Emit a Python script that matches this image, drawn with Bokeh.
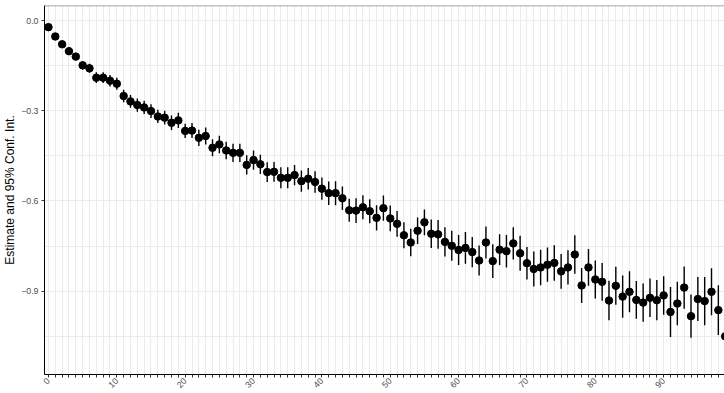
import math
from bokeh.plotting import figure
from bokeh.models import FixedTicker, CustomJSTickFormatter, Span, ColumnDataSource
from bokeh.embed import file_html
from bokeh.resources import INLINE

# ---- data ----
index = list(range(100))
estimate = [
    -0.022, -0.053, -0.079, -0.102, -0.120, -0.149, -0.159, -0.190, -0.190, -0.200,
    -0.210, -0.251, -0.269, -0.281, -0.289, -0.301, -0.319, -0.323, -0.340, -0.332,
    -0.367, -0.366, -0.390, -0.384, -0.423, -0.412, -0.432, -0.440, -0.440, -0.480,
    -0.464, -0.478, -0.504, -0.503, -0.523, -0.523, -0.514, -0.534, -0.526, -0.537,
    -0.559, -0.574, -0.574, -0.591, -0.631, -0.632, -0.621, -0.634, -0.656, -0.624,
    -0.658, -0.676, -0.714, -0.738, -0.699, -0.671, -0.709, -0.711, -0.736, -0.749,
    -0.763, -0.756, -0.770, -0.798, -0.738, -0.800, -0.762, -0.767, -0.741, -0.774,
    -0.807, -0.826, -0.821, -0.812, -0.806, -0.834, -0.821, -0.778, -0.881, -0.821,
    -0.861, -0.869, -0.931, -0.882, -0.918, -0.902, -0.929, -0.938, -0.922, -0.930,
    -0.914, -0.969, -0.941, -0.888, -0.983, -0.926, -0.933, -0.902, -0.963, -1.050,
]
half_ci = [
    0.006, 0.008, 0.009, 0.010, 0.011, 0.014, 0.015, 0.018, 0.018, 0.019,
    0.020, 0.021, 0.021, 0.022, 0.022, 0.023, 0.022, 0.023, 0.024, 0.025,
    0.024, 0.025, 0.027, 0.028, 0.028, 0.029, 0.029, 0.030, 0.030, 0.032,
    0.032, 0.032, 0.033, 0.033, 0.035, 0.035, 0.034, 0.035, 0.036, 0.036,
    0.037, 0.039, 0.040, 0.039, 0.038, 0.041, 0.040, 0.040, 0.042, 0.042,
    0.043, 0.043, 0.043, 0.046, 0.044, 0.043, 0.047, 0.048, 0.049, 0.050,
    0.050, 0.053, 0.050, 0.050, 0.053, 0.056, 0.051, 0.054, 0.054, 0.058,
    0.054, 0.058, 0.059, 0.057, 0.059, 0.058, 0.057, 0.064, 0.058, 0.061,
    0.063, 0.063, 0.066, 0.063, 0.070, 0.068, 0.063, 0.064, 0.064, 0.067,
    0.064, 0.083, 0.072, 0.070, 0.072, 0.073, 0.080, 0.078, 0.083, 0.080,
]
x_tick_values = list(range(100))
x_label_values = [0, 10, 20, 30, 40, 50, 60, 70, 80, 90]
y_major_ticks = [-0.9, -0.6, -0.3, 0.0]
y_minor_ticks = [-1.05, -0.75, -0.45, -0.15]
y_tick_labels = ["\u22120.9", "\u22120.6", "\u22120.3", "0.0"]
y_title = "Estimate and 95% Conf. Int."

lower = [e - h for e, h in zip(estimate, half_ci)]
upper = [e + h for e, h in zip(estimate, half_ci)]
src = ColumnDataSource(dict(x=index, est=estimate, lo=lower, hi=upper))

FONT = "Liberation Sans"
GRID = "#EBEBEB"
Y_TOP = 0.05

p = figure(width=724, height=393, output_backend="svg", toolbar_location=None,
           x_range=(-0.58, 98.9), y_range=(-1.177, Y_TOP),
           min_border_left=0, min_border_right=0, min_border_top=5, min_border_bottom=0,
           background_fill_color="white", border_fill_color="white")
p.outline_line_color = None

p.segment(x0="x", y0="lo", x1="x", y1="hi", source=src, line_color="black", line_width=1.4)
p.scatter(x="x", y="est", source=src, size=7.5, fill_color="black", line_color="black")

# axes
p.xaxis.ticker = FixedTicker(ticks=x_tick_values)
p.xaxis.formatter = CustomJSTickFormatter(args=dict(shown=x_label_values),
                                          code="return shown.includes(tick) ? String(tick) : '';")
p.xaxis.major_label_orientation = math.pi / 4
p.yaxis.ticker = FixedTicker(ticks=y_major_ticks, minor_ticks=y_minor_ticks)
p.yaxis.formatter = CustomJSTickFormatter(args=dict(vals=y_major_ticks, labs=y_tick_labels),
                                          code="const i = vals.indexOf(tick); return i >= 0 ? labs[i] : '';")
p.yaxis.axis_label = y_title

for ax in (p.xaxis[0], p.yaxis[0]):
    ax.axis_line_color = "black"
    ax.axis_line_width = 1
    ax.major_tick_line_color = "#333333"
    ax.major_tick_in = 0
    ax.major_tick_out = 3
    ax.minor_tick_line_color = None
    ax.major_label_text_font = FONT
    ax.major_label_text_font_size = "8.8px"
    ax.major_label_text_color = "#4D4D4D"
    ax.major_label_standoff = 2
p.yaxis.axis_label_text_font = FONT
p.yaxis.axis_label_text_font_size = "12px"
p.yaxis.axis_label_text_font_style = "normal"
p.yaxis.axis_label_text_color = "black"
p.yaxis.axis_label_standoff = 1

# grids
p.xgrid.grid_line_color = GRID
p.xgrid.grid_line_width = 1
p.ygrid.grid_line_color = GRID
p.ygrid.grid_line_width = 1
p.ygrid.minor_grid_line_color = GRID
p.ygrid.minor_grid_line_width = 1

# top panel border
p.add_layout(Span(location=Y_TOP, dimension="width", line_color="#888888", line_width=1.5))

open("out.html", "w").write(file_html(p, INLINE))
